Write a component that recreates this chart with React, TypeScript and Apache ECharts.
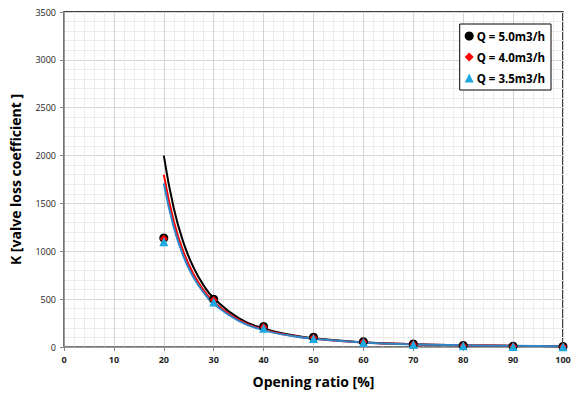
import React, { useEffect, useRef } from "react";
import * as echarts from "echarts";

const openings = [20, 30, 40, 50, 60, 70, 80, 90, 100];
const kQ50 = [1140, 500, 215, 102, 55, 32, 16, 9, 5];
const kQ40 = [1130, 490, 208, 97, 52, 29, 14, 8, 4];
const kQ35 = [1100, 470, 195, 90, 46, 25, 12, 6, 3];

const trendX = [20, 22, 24, 26, 28, 30, 35, 40, 45, 50, 60, 70, 80, 90, 100];
const trendQ50 = [2000, 1450, 1082, 826, 643, 511, 302, 193, 130, 91, 49, 29, 19, 13, 9];
const trendQ40 = [1800, 1314, 986, 757, 593, 472, 284, 183, 124, 87, 48, 29, 19, 13, 9];
const trendQ35 = [1710, 1251, 940, 723, 567, 452, 273, 176, 120, 85, 47, 28, 18, 12, 9];

const seriesNames = ["Q = 5.0m3/h", "Q = 4.0m3/h", "Q = 3.5m3/h"];

const pair = (xs: number[], ys: number[]) => xs.map((x, i) => [x, ys[i]]);

export default function App() {
  const ref = useRef<HTMLDivElement>(null);
  useEffect(() => {
    if (!ref.current) return;
    const chart = echarts.init(ref.current, null, { renderer: "svg" });
    const font = "'Open Sans', 'Liberation Sans', sans-serif";
    chart.setOption({
      animation: false,
      textStyle: { fontFamily: font },
      grid: {
        left: 64,
        right: 11,
        top: 12,
        bottom: 43,
        show: true,
        borderColor: "#000",
        borderWidth: 1.5,
        backgroundColor: "#fff",
      },
      legend: {
        data: seriesNames,
        orient: "vertical",
        right: 23,
        top: 24,
        itemGap: 9,
        itemWidth: 9,
        itemHeight: 9,
        padding: [6, 6, 6, 5],
        borderColor: "#000",
        borderWidth: 1,
        backgroundColor: "#fff",
        textStyle: { fontSize: 11.5, fontWeight: "bold", color: "#000", fontFamily: font, padding: [0, 0, 0, -2] },
      },
      xAxis: {
        type: "value",
        min: 0,
        max: 100,
        interval: 10,
        name: "Opening ratio [%]",
        nameLocation: "middle",
        nameGap: 27,
        nameTextStyle: { fontSize: 14, fontWeight: "bold", color: "#000", fontFamily: font },
        axisLine: { show: true, lineStyle: { color: "#888", width: 1.5 } },
        axisTick: { show: true, length: 4, lineStyle: { color: "#888" } },
        axisLabel: { fontSize: 9, fontWeight: "bold", color: "#222", margin: 8 },
        splitLine: { show: true, lineStyle: { color: "#d4d4d4", width: 1 } },
        minorTick: { show: false, splitNumber: 5 },
        minorSplitLine: { show: true, lineStyle: { color: "#ececec", width: 1 } },
      },
      yAxis: {
        type: "value",
        min: 0,
        max: 3500,
        interval: 500,
        name: "K [valve loss coefficient ]",
        nameLocation: "middle",
        nameGap: 42,
        nameTextStyle: { fontSize: 14, fontWeight: "bold", color: "#000", fontFamily: font },
        axisLine: { show: true, lineStyle: { color: "#888", width: 1.5 } },
        axisTick: { show: true, length: 4, lineStyle: { color: "#888" } },
        axisLabel: { fontSize: 9, color: "#222", margin: 8, formatter: (v: number) => String(v) },
        splitLine: { show: true, lineStyle: { color: "#d4d4d4", width: 1 } },
        minorTick: { show: false, splitNumber: 5 },
        minorSplitLine: { show: true, lineStyle: { color: "#ececec", width: 1 } },
      },
      series: [
        {
          name: "trend50",
          type: "line",
          data: pair(trendX, trendQ50),
          smooth: true,
          showSymbol: false,
          lineStyle: { color: "#000", width: 2 },
          z: 3,
        },
        {
          name: "trend40",
          type: "line",
          data: pair(trendX, trendQ40),
          smooth: true,
          showSymbol: false,
          lineStyle: { color: "#ff0000", width: 2 },
          z: 3,
        },
        {
          name: "trend35",
          type: "line",
          data: pair(trendX, trendQ35),
          smooth: true,
          showSymbol: false,
          lineStyle: { color: "#2e86c8", width: 2 },
          z: 3,
        },
        {
          name: seriesNames[0],
          type: "scatter",
          data: pair(openings, kQ50),
          symbol: "circle",
          symbolSize: 9,
          itemStyle: { color: "#000", opacity: 1 },
          z: 4,
        },
        {
          name: seriesNames[1],
          type: "scatter",
          data: pair(openings, kQ40),
          symbol: "diamond",
          symbolSize: 8,
          itemStyle: { color: "#ff0000", opacity: 1 },
          z: 5,
        },
        {
          name: seriesNames[2],
          type: "scatter",
          data: pair(openings, kQ35),
          symbol: "triangle",
          symbolSize: 9,
          itemStyle: { color: "#1fa8e0", opacity: 1 },
          z: 6,
        },
      ],
    });
    return () => chart.dispose();
  }, []);
  return <div ref={ref} style={{ width: 574, height: 393, position: "absolute", left: 0, top: 0 }} />;
}
